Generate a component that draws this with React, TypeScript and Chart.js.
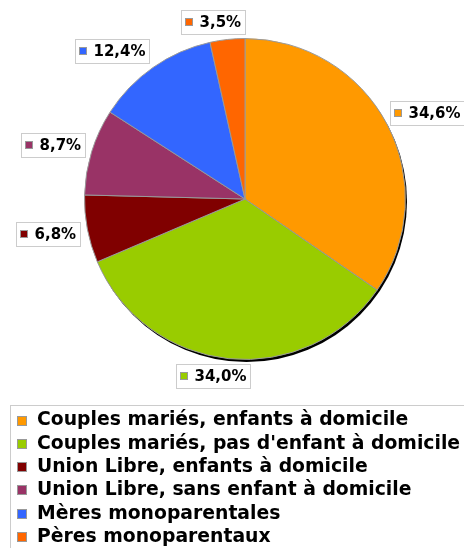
import React, { useEffect, useRef } from "react";
import { Chart, registerables } from "chart.js";

Chart.register(...registerables);

const categories = [
  "Couples mariés, enfants à domicile",
  "Couples mariés, pas d'enfant à domicile",
  "Union Libre, enfants à domicile",
  "Union Libre, sans enfant à domicile",
  "Mères monoparentales",
  "Pères monoparentaux",
];
const values = [34.6, 34.0, 6.8, 8.7, 12.4, 3.5];
const colors = ["#FF9900", "#99CC00", "#800000", "#993366", "#3366FF", "#FF6600"];

const FONT = '"DejaVu Sans", Verdana, sans-serif';

const fmt = (v: number) => v.toFixed(1).replace(".", ",") + "%";
const clamp = (v: number) => Math.max(0, Math.min(1, v));

const shadowPlugin = {
  id: "pieShadow",
  beforeDatasetsDraw(chart: any) {
    const arc = chart.getDatasetMeta(0).data[0];
    if (!arc) return;
    const ctx = chart.ctx;
    ctx.save();
    ctx.fillStyle = "#000";
    ctx.beginPath();
    ctx.arc(arc.x + 1.5, arc.y + 2.5, arc.outerRadius, 0, Math.PI * 2);
    ctx.fill();
    ctx.restore();
  },
};

const labelPlugin = {
  id: "sliceLabels",
  afterDatasetsDraw(chart: any) {
    const meta = chart.getDatasetMeta(0);
    const ctx = chart.ctx;
    const data = chart.data.datasets[0].data as number[];
    const bg = chart.data.datasets[0].backgroundColor as string[];
    ctx.save();
    ctx.font = `bold 15px ${FONT}`;
    ctx.textBaseline = "middle";
    meta.data.forEach((arc: any, i: number) => {
      const mid = (arc.startAngle + arc.endAngle) / 2;
      const c = Math.cos(mid);
      const s = Math.sin(mid);
      const ax = arc.x + (arc.outerRadius + (c < 0 ? 7 : 3)) * c;
      const ay = arc.y + (arc.outerRadius + 5) * s;
      const text = fmt(data[i]);
      const tw = ctx.measureText(text).width;
      const w = Math.round(18 + tw + 4);
      const h = 24;
      const fx = clamp(0.5 - 2 * c);
      const fy = clamp(0.5 - 0.8 * s);
      const bx = Math.round(ax - w * fx) + 0.5;
      const by = Math.round(ay - h * fy) + 0.5;
      ctx.fillStyle = "#ffffff";
      ctx.fillRect(bx, by, w, h);
      ctx.strokeStyle = "#cccccc";
      ctx.lineWidth = 1;
      ctx.strokeRect(bx, by, w, h);
      ctx.fillStyle = bg[i];
      ctx.fillRect(bx + 4, by + h / 2 - 4, 7, 7);
      ctx.strokeStyle = "#999999";
      ctx.strokeRect(bx + 4, by + h / 2 - 4, 7, 7);
      ctx.fillStyle = "#000";
      ctx.textAlign = "left";
      ctx.fillText(text, bx + 18, by + h / 2 + 1);
    });
    ctx.restore();
  },
};

const legendPlugin = {
  id: "boxLegend",
  afterDraw(chart: any) {
    const ctx = chart.ctx;
    const labels = chart.data.labels as string[];
    const bg = chart.data.datasets[0].backgroundColor as string[];
    ctx.save();
    ctx.strokeStyle = "#cccccc";
    ctx.lineWidth = 1;
    ctx.fillStyle = "#fff";
    ctx.fillRect(10.5, 405.5, 460, 160);
    ctx.strokeRect(10.5, 405.5, 460, 160);
    ctx.font = `bold 18.8px ${FONT}`;
    ctx.textBaseline = "middle";
    ctx.textAlign = "left";
    labels.forEach((lab, i) => {
      const cy = 420.5 + i * 23.3;
      ctx.fillStyle = bg[i];
      ctx.fillRect(17.5, Math.round(cy - 5) + 0.5, 9, 9);
      ctx.strokeStyle = "#999999";
      ctx.strokeRect(17.5, Math.round(cy - 5) + 0.5, 9, 9);
      ctx.fillStyle = "#000";
      ctx.fillText(lab, 37, cy);
    });
    ctx.restore();
  },
};

export default function App() {
  const ref = useRef<HTMLCanvasElement>(null);
  useEffect(() => {
    if (!ref.current) return;
    const chart = new Chart(ref.current, {
      type: "pie",
      data: {
        labels: categories,
        datasets: [
          {
            data: values,
            backgroundColor: colors,
            borderColor: "#9a9a9a",
            borderWidth: 1,
          },
        ],
      },
      options: {
        responsive: false,
        animation: false,
        layout: { padding: { left: 84, right: 58, top: 38, bottom: 188 } },
        plugins: {
          legend: { display: false },
          tooltip: { enabled: false },
        },
      },
      plugins: [shadowPlugin, labelPlugin, legendPlugin],
    });
    return () => chart.destroy();
  }, []);
  return (
    <div style={{ position: "absolute", left: 0, top: 0, width: 464, height: 548, background: "#fff" }}>
      <canvas ref={ref} width={464} height={548} />
    </div>
  );
}
